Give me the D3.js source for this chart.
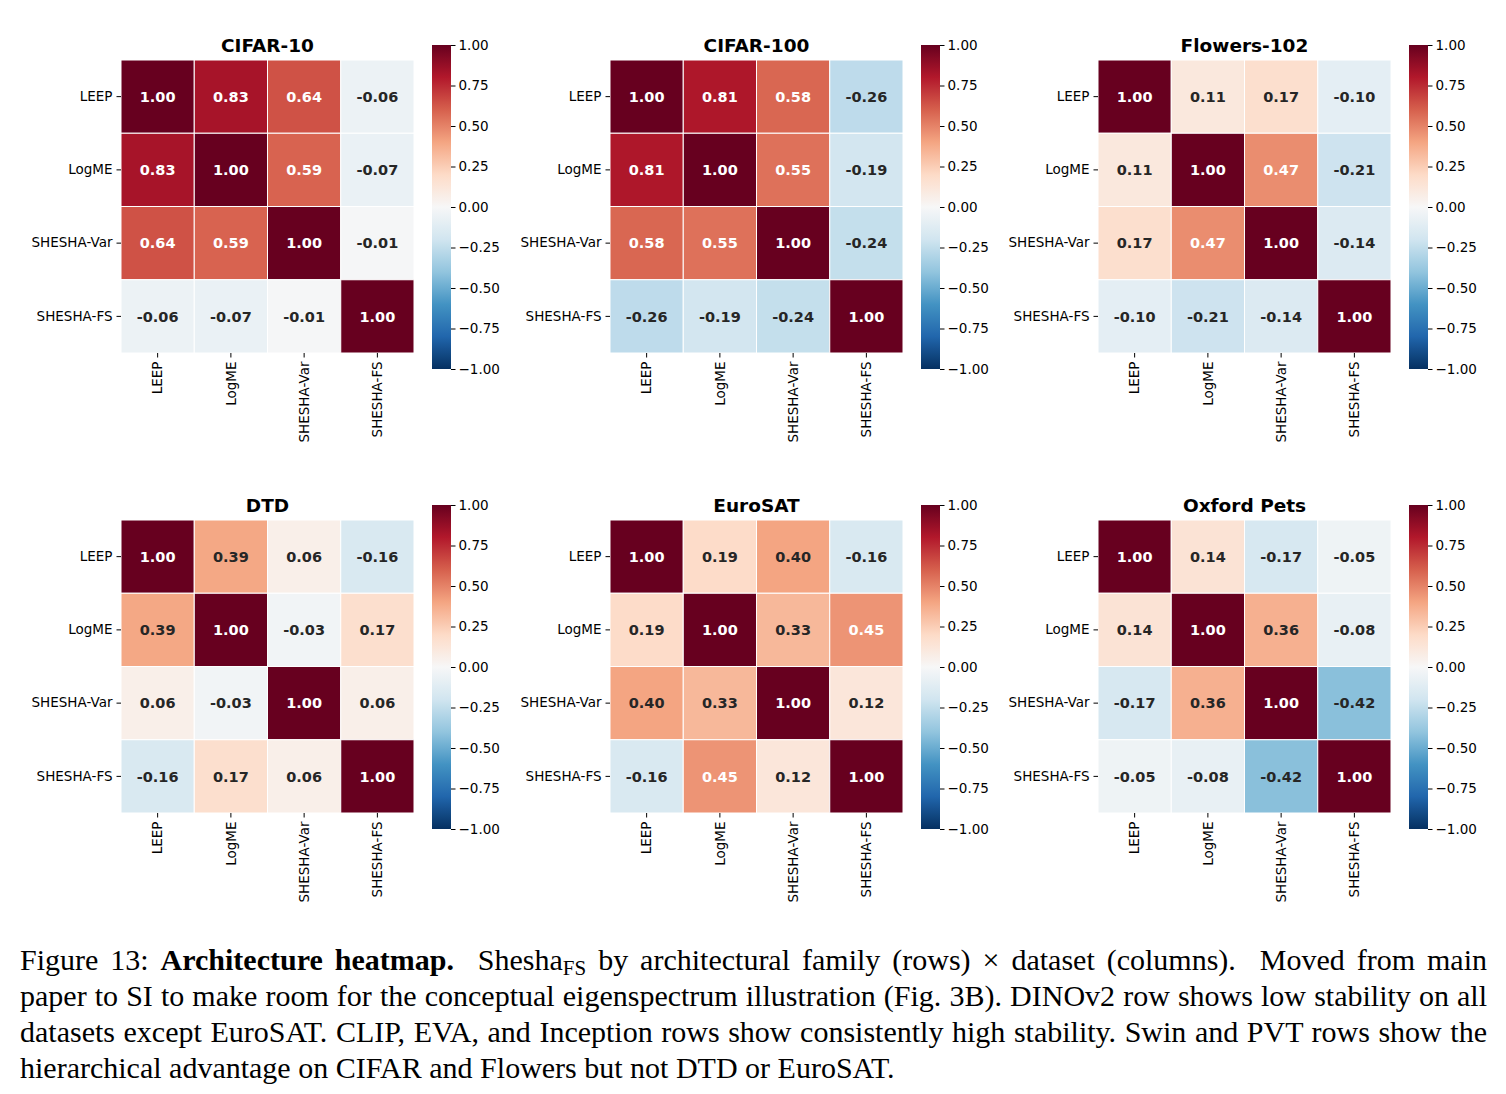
<!DOCTYPE html>
<html><head><meta charset="utf-8">
<script src="https://cdn.jsdelivr.net/npm/d3@7"></script>
<style>
body{margin:0;background:#fff;}
svg{display:block;}
</style></head>
<body>
<svg id="chart" width="1506" height="1094"></svg>
<script>
// ---- data ----
const methods = ["LEEP", "LogME", "SHESHA-Var", "SHESHA-FS"];
const datasets = ["CIFAR-10", "CIFAR-100", "Flowers-102", "DTD", "EuroSAT", "Oxford Pets"];
const cifar10 = [[1.00,0.83,0.64,-0.06],[0.83,1.00,0.59,-0.07],[0.64,0.59,1.00,-0.01],[-0.06,-0.07,-0.01,1.00]];
const cifar100 = [[1.00,0.81,0.58,-0.26],[0.81,1.00,0.55,-0.19],[0.58,0.55,1.00,-0.24],[-0.26,-0.19,-0.24,1.00]];
const flowers102 = [[1.00,0.11,0.17,-0.10],[0.11,1.00,0.47,-0.21],[0.17,0.47,1.00,-0.14],[-0.10,-0.21,-0.14,1.00]];
const dtd = [[1.00,0.39,0.06,-0.16],[0.39,1.00,-0.03,0.17],[0.06,-0.03,1.00,0.06],[-0.16,0.17,0.06,1.00]];
const eurosat = [[1.00,0.19,0.40,-0.16],[0.19,1.00,0.33,0.45],[0.40,0.33,1.00,0.12],[-0.16,0.45,0.12,1.00]];
const oxfordPets = [[1.00,0.14,-0.17,-0.05],[0.14,1.00,0.36,-0.08],[-0.17,0.36,1.00,-0.42],[-0.05,-0.08,-0.42,1.00]];
const matrices = [cifar10, cifar100, flowers102, dtd, eurosat, oxfordPets];
const colorbarTicks = [1.00, 0.75, 0.50, 0.25, 0.00, -0.25, -0.50, -0.75, -1.00];

// ---- colormap (matplotlib RdBu_r) ----
const rdbu = ["#67001f","#b2182b","#d6604d","#f4a582","#fddbc7","#f7f7f7","#d1e5f0","#92c5de","#4393c3","#2166ac","#053061"];
const color = d3.scaleLinear().domain(d3.range(11).map(i => 1 - i * 0.2)).range(rdbu).interpolate(d3.interpolateRgb).clamp(true);

function lum(c){
  const r = d3.rgb(c);
  const f = v => { v/=255; return v <= 0.03928 ? v/12.92 : Math.pow((v+0.055)/1.055, 2.4); };
  return 0.2126*f(r.r) + 0.7152*f(r.g) + 0.0722*f(r.b);
}
const annFmt = d3.formatLocale({decimal: ".", thousands: ",", grouping: [3], currency: ["", ""], minus: "-"}).format(".2f");
const cbFmt = d3.formatLocale({decimal: ".", thousands: ",", grouping: [3], currency: ["", ""], minus: "\u2212"}).format(".2f");

const svg = d3.select("#chart");
const sans = "DejaVu Sans, sans-serif";
const colLeft = [121, 610, 1098];
const rowTop = [60, 520];
const size = 293;
const cbW = 19, cbGap = 18;
const tickFs = 13.5;

matrices.forEach((m, k) => {
  const left = colLeft[k % 3], top = rowTop[Math.floor(k / 3)];
  const g = svg.append("g").attr("transform", `translate(${left},${top})`);
  const x = d3.scaleBand().domain(methods).range([0, size]);
  const y = d3.scaleBand().domain(methods).range([0, size]);

  const cells = [];
  m.forEach((row, i) => row.forEach((v, j) => cells.push({r: methods[i], c: methods[j], v})));

  g.selectAll("rect.cell").data(cells).enter().append("rect")
    .attr("class","cell")
    .attr("x", d => x(d.c)).attr("y", d => y(d.r))
    .attr("width", x.bandwidth()).attr("height", y.bandwidth())
    .attr("fill", d => color(d.v))
    .attr("stroke", "#fff").attr("stroke-width", 1);

  g.selectAll("text.ann").data(cells).enter().append("text")
    .attr("class","ann")
    .attr("x", d => x(d.c) + x.bandwidth()/2)
    .attr("y", d => y(d.r) + y.bandwidth()/2)
    .attr("dy", "0.36em")
    .attr("text-anchor","middle")
    .attr("font-family", sans).attr("font-weight","bold").attr("font-size", 14.5)
    .attr("fill", d => lum(color(d.v)) > 0.408 ? "#262626" : "#ffffff")
    .text(d => annFmt(d.v));

  // y axis
  const ya = g.append("g").call(d3.axisLeft(y).tickSize(4.5).tickPadding(4));
  ya.select(".domain").remove();
  ya.selectAll("text").attr("font-family", sans).attr("font-size", tickFs).attr("fill","#000");
  ya.selectAll("line").attr("stroke","#000").attr("stroke-width",1);

  // x axis
  const xa = g.append("g").attr("transform", `translate(0,${size})`).call(d3.axisBottom(x).tickSize(4.5).tickPadding(4));
  xa.select(".domain").remove();
  xa.selectAll("line").attr("stroke","#000").attr("stroke-width",1);
  xa.selectAll("text").attr("font-family", sans).attr("font-size", tickFs).attr("fill","#000")
    .attr("transform","rotate(-90)").attr("text-anchor","end")
    .attr("x", -8.5).attr("y", 0).attr("dy","0.35em");

  // title
  g.append("text").attr("x", size/2).attr("y", -8)
    .attr("text-anchor","middle").attr("font-family", sans).attr("font-weight","bold").attr("font-size", 18.5)
    .attr("fill","#000").text(datasets[k]);

  // colorbar
  const cbTop = top - 15, cbH = 324;
  const cb = svg.append("g").attr("transform", `translate(${left + size + cbGap},${cbTop})`);
  const cy = d3.scaleLinear().domain([1, -1]).range([0, cbH]);
  const gradId = "grad" + k;
  const grad = svg.append("defs").append("linearGradient").attr("id", gradId)
    .attr("x1",0).attr("y1",0).attr("x2",0).attr("y2",1);
  d3.range(0, 1.0001, 0.02).forEach(t => {
    grad.append("stop").attr("offset", t).attr("stop-color", color(1 - 2*t));
  });
  cb.append("rect").attr("width", cbW).attr("height", cbH).attr("fill", `url(#${gradId})`);
  const ca = cb.append("g").attr("transform", `translate(${cbW},0)`)
    .call(d3.axisRight(cy).tickValues(colorbarTicks).tickSize(4.5).tickPadding(3).tickFormat(cbFmt));
  ca.select(".domain").remove();
  ca.selectAll("line").attr("stroke","#000").attr("stroke-width",1);
  ca.selectAll("text").attr("font-family", sans).attr("font-size", tickFs).attr("fill","#000");
});

// ---- caption ----
const capFont = "Liberation Serif, Times New Roman, serif";
const capLeft = 20, capRight = 1487, capFs = 30;
const capLines = [
  [{t:"Figure 13: "},{t:"Architecture heatmap.", b:true},{t:"  Shesha"},{t:"FS", sub:true},{t:" by architectural family (rows) \u00d7 dataset (columns).  Moved from main", after:true}],
  [{t:"paper to SI to make room for the conceptual eigenspectrum illustration (Fig. 3B). DINOv2 row shows low stability on all"}],
  [{t:"datasets except EuroSAT. CLIP, EVA, and Inception rows show consistently high stability. Swin and PVT rows show the"}],
  [{t:"hierarchical advantage on CIFAR and Flowers but not DTD or EuroSAT."}]
];
capLines.forEach((parts, li) => {
  const t = svg.append("text").attr("x", capLeft).attr("y", 970 + li*36)
    .attr("font-family", capFont).attr("font-size", capFs).attr("fill","#000")
    .attr("xml:space","preserve").style("white-space","pre");
  parts.forEach(p => {
    const s = t.append("tspan").text(p.t);
    if (p.b) s.attr("font-weight","bold");
    if (p.sub) s.attr("font-size", capFs*0.7).attr("dy", 5);
    if (p.after) s.attr("dy", -5);
  });
  if (li < capLines.length - 1) {
    const w = t.node().getComputedTextLength();
    const nSpaces = parts.map(p => (p.t.match(/ /g)||[]).length).reduce((a,b)=>a+b,0);
    if (nSpaces > 0) t.attr("word-spacing", Math.max(0, (capRight - capLeft - w) / nSpaces));
  }
});
</script>
</body></html>
